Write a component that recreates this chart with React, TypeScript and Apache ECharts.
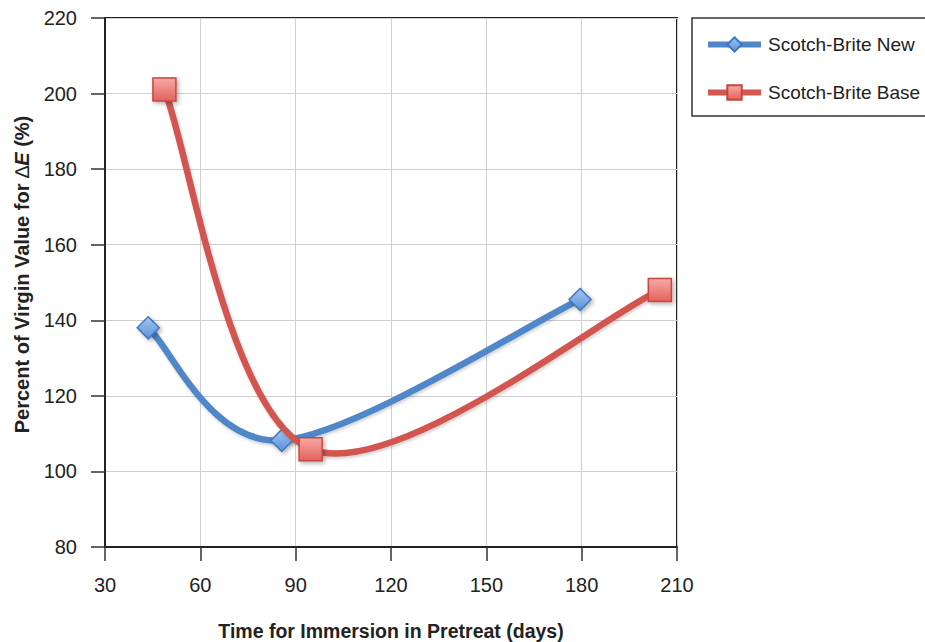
import React, { useEffect, useRef } from "react";
import * as echarts from "echarts";

const xTicks = [30, 60, 90, 120, 150, 180, 210];
const yTicks = [80, 100, 120, 140, 160, 180, 200, 220];

const seriesNames = ["Scotch-Brite New", "Scotch-Brite Base"];
const newDays = [43.6, 85.6, 179.5];
const newValues = [138.0, 108.2, 145.5];
const baseDays = [48.7, 94.7, 204.6];
const baseValues = [201.1, 105.9, 148.0];

const FONT = "'Liberation Sans Narrow', 'Arial Narrow', 'Liberation Sans', Arial, sans-serif";
const BLUE = "#4F87C8";
const RED = "#D2574F";

function pairs(xs: number[], ys: number[]) {
  return xs.map((x, i) => [x, ys[i]]);
}

// Excel-style smooth curve segment via custom series
function makeCurveRenderer(xs: number[], ys: number[], color: string) {
  return (params: any, api: any) => {
    const i = params.dataIndex;
    const n = xs.length;
    if (i >= n - 1) return null;
    const P = xs.map((x, k) => api.coord([x, ys[k]]));
    const P1 = P[i];
    const P2 = P[i + 1];
    const P0 = i > 0 ? P[i - 1] : P[i];
    const P3 = i + 2 < n ? P[i + 2] : P[i + 1];
    const dist = (a: number[], b: number[]) => Math.hypot(a[0] - b[0], a[1] - b[1]);
    const d12 = dist(P1, P2);
    const d02 = dist(P0, P2);
    const d13 = dist(P1, P3);
    const f = 1 / 6;
    let f0 = f;
    let f1 = f;
    if (d02 / 6 >= d12 / 2) f0 = d12 / d02 / 2;
    if (d13 / 6 >= d12 / 2) f1 = d12 / d13 / 2;
    const cp1 = [P1[0] + f0 * (P2[0] - P0[0]), P1[1] + f0 * (P2[1] - P0[1])];
    const cp2 = [P2[0] - f1 * (P3[0] - P1[0]), P2[1] - f1 * (P3[1] - P1[1])];
    return {
      type: "bezierCurve",
      shape: {
        x1: P1[0], y1: P1[1], x2: P2[0], y2: P2[1],
        cpx1: cp1[0], cpy1: cp1[1], cpx2: cp2[0], cpy2: cp2[1],
      },
      style: {
        stroke: color,
        lineWidth: 6.5,
        fill: null,
        lineCap: "round",
        shadowBlur: 3,
        shadowOffsetX: 1,
        shadowOffsetY: 2,
        shadowColor: "rgba(0,0,0,0.18)",
      },
    };
  };
}

const diamondFill = {
  type: "linear", x: 0, y: 0, x2: 0, y2: 1,
  colorStops: [
    { offset: 0, color: "#A3C6F2" },
    { offset: 1, color: "#5A92D8" },
  ],
};
const squareFill = {
  type: "linear", x: 0, y: 0, x2: 0, y2: 1,
  colorStops: [
    { offset: 0, color: "#F7AAA6" },
    { offset: 1, color: "#E3625B" },
  ],
};

export default function App() {
  const ref = useRef<HTMLDivElement>(null);
  useEffect(() => {
    if (!ref.current) return;
    const chart = echarts.init(ref.current, undefined, { renderer: "svg" });
    const option: any = {
      animation: false,
      backgroundColor: "#ffffff",
      textStyle: { fontFamily: FONT },
      grid: {
        left: 105, top: 18, right: 248, bottom: 95,
        outerBoundsMode: "none",
        containLabel: false,
        show: true, borderColor: "#222", borderWidth: 2, backgroundColor: "transparent",
      },
      legend: {
        orient: "vertical",
        left: 692,
        top: 18,
        padding: [17, 60, 14, 13],
        itemWidth: 53,
        itemHeight: 18,
        itemGap: 29,
        borderColor: "#333",
        borderWidth: 1.5,
        textStyle: { fontFamily: FONT, fontSize: 19, color: "#222", padding: [0, 0, 0, 2] },
        data: [
          { name: seriesNames[0], lineStyle: { opacity: 1, width: 6, color: BLUE } },
          { name: seriesNames[1], lineStyle: { opacity: 1, width: 6, color: RED } },
        ],
      },
      xAxis: {
        type: "value",
        min: xTicks[0],
        max: xTicks[xTicks.length - 1],
        interval: 30,
        name: "Time for Immersion in Pretreat (days)",
        nameLocation: "middle",
        nameGap: 74,
        nameTextStyle: { fontFamily: FONT, fontSize: 19.5, fontWeight: "bold", color: "#222" },
        axisLine: { show: true, onZero: false, lineStyle: { color: "#222", width: 2 } },
        axisTick: { show: true, length: 14, lineStyle: { color: "#333", width: 1.5 } },
        axisLabel: { margin: 28, fontFamily: FONT, fontSize: 20, color: "#222" },
        splitLine: { show: true, lineStyle: { color: "#CFCFCF", width: 1 } },
      },
      yAxis: {
        type: "value",
        min: yTicks[0],
        max: yTicks[yTicks.length - 1],
        interval: 20,
        name: "{a|Percent of Virgin Value for }{d|∆}{e|E}{a| (%)}",
        nameLocation: "middle",
        nameGap: 73,
        nameRotate: 90,
        nameTextStyle: {
          padding: [0, 0, 0, 16],
          rich: {
            a: { fontFamily: FONT, fontSize: 20, fontWeight: "bold", color: "#222" },
            d: { fontFamily: FONT, fontSize: 20, fontWeight: "normal", color: "#222" },
            e: { fontFamily: FONT, fontSize: 20, fontWeight: "bold", fontStyle: "italic", color: "#222" },
          },
        },
        axisLine: { show: true, onZero: false, lineStyle: { color: "#222", width: 2 } },
        axisTick: { show: true, length: 14, lineStyle: { color: "#333", width: 1.5 } },
        axisLabel: { margin: 28, fontFamily: FONT, fontSize: 20, color: "#222" },
        splitLine: { show: true, lineStyle: { color: "#CFCFCF", width: 1 } },
      },
      series: [
        {
          type: "custom",
          renderItem: makeCurveRenderer(newDays, newValues, BLUE),
          data: pairs(newDays, newValues),
          encode: { x: 0, y: 1 },
          clip: false,
          z: 2,
        },
        {
          type: "line",
          name: seriesNames[0],
          data: pairs(newDays, newValues),
          symbol: "diamond",
          symbolSize: 22,
          showAllSymbol: true,
          lineStyle: { width: 6, color: BLUE, opacity: 0 },
          itemStyle: {
            color: diamondFill,
            borderColor: "#3E77BE",
            borderWidth: 1.5,
            shadowBlur: 4,
            shadowOffsetX: 2,
            shadowOffsetY: 2,
            shadowColor: "rgba(0,0,0,0.3)",
          },
          z: 3,
        },
        {
          type: "custom",
          renderItem: makeCurveRenderer(baseDays, baseValues, RED),
          data: pairs(baseDays, baseValues),
          encode: { x: 0, y: 1 },
          clip: false,
          z: 4,
        },
        {
          type: "line",
          name: seriesNames[1],
          data: pairs(baseDays, baseValues),
          symbol: "rect",
          symbolSize: 23,
          showAllSymbol: true,
          lineStyle: { width: 6, color: RED, opacity: 0 },
          itemStyle: {
            color: squareFill,
            borderColor: "#C8453F",
            borderWidth: 1.5,
            shadowBlur: 4,
            shadowOffsetX: 2,
            shadowOffsetY: 2,
            shadowColor: "rgba(0,0,0,0.3)",
          },
          z: 5,
        },
      ],
    };
    chart.setOption(option);
    return () => chart.dispose();
  }, []);
  return (
    <div
      ref={ref}
      style={{ position: "absolute", left: 0, top: 0, width: 925, height: 642 }}
    />
  );
}
